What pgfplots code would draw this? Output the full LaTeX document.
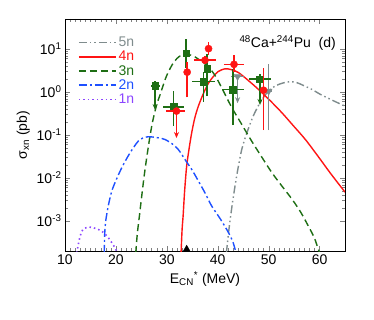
\documentclass[border=0pt]{standalone}
\usepackage{pgfplots}
\pgfplotsset{compat=1.18}
\usepackage{fontspec}
\setmainfont{Liberation Sans}
\usetikzlibrary{arrows.meta}
\definecolor{cfive}{RGB}{127,140,141}
\definecolor{cfour}{RGB}{255,20,20}
\definecolor{cthree}{RGB}{30,110,20}
\definecolor{ctwo}{RGB}{30,80,255}
\definecolor{cone}{RGB}{140,70,255}
\begin{document}
\begin{tikzpicture}
\begin{axis}[
  scale only axis, width=280pt, height=232pt,
  ymode=log, xmin=10, xmax=65, ymin=2e-4, ymax=50,
  xtick={10,20,...,60}, minor x tick num=9,
  ytick={1e-3,1e-2,1e-1,1,10},
  yticklabels={10\textsuperscript{-3},10\textsuperscript{-2},10\textsuperscript{-1},10\textsuperscript{0},10\textsuperscript{1}},
  tick align=inside, tick pos=both,
  major tick length=5pt, minor tick length=3pt,
  /pgf/number format/assume math mode=true,
  every tick label/.append style={font=\fontsize{14}{16}\selectfont},
  label style={font=\fontsize{14}{16}\selectfont},
  xlabel={E\textsubscript{CN}\textsuperscript{*} (MeV)},
  ylabel={σ\textsubscript{xn} (pb)},
  legend style={draw=none, fill=none, at={(0.035,0.94)}, anchor=north west,
    font=\fontsize{14}{16}\selectfont, row sep=-1pt},
  legend cell align=left,
  legend image code/.code={\draw[line width=1.6pt,#1] (0pt,0pt) -- (37pt,0pt);},
  clip mode=individual,
]
% model curves
\addplot[cfive, line width=1.4pt, dash pattern=on 8pt off 3pt on 1.5pt off 3pt on 1.5pt off 3pt, smooth] coordinates {
(41.7,1.8e-4)(42.3,7.9e-4)(43.0,3.2e-3)(43.8,1.26e-2)(44.7,4.5e-2)(45.7,0.11)(47.0,0.28)(48.3,0.56)(49.8,1.0)(51.3,1.38)(52.8,1.62)(54.2,1.74)(55.5,1.66)(56.9,1.41)(58.5,1.15)(60.1,0.89)(62.8,0.62)(65,0.47)};
\addlegendentry{\textcolor{cfive}{5n}}
\addplot[cfour, line width=1.4pt, smooth] coordinates {
(32.8,1.8e-4)(33.0,6.3e-4)(33.2,1.3e-3)(33.5,5.0e-3)(33.9,1.9e-2)(34.4,5.0e-2)(34.9,0.115)(35.5,0.25)(36.2,0.47)(37.2,0.93)(38.2,1.62)(39.2,2.34)(40.1,3.0)(41.4,3.47)(42.7,3.31)(44.1,2.82)(46.0,1.86)(48.0,1.15)(50.3,0.63)(52.6,0.33)(54.9,0.162)(57.2,7.9e-2)(59.7,3.2e-2)(62.2,1.26e-2)(65,4.7e-3)};
\addlegendentry{\textcolor{cfour}{4n}}
\addplot[cthree, line width=1.4pt, dash pattern=on 7pt off 4pt, smooth] coordinates {
(23.9,1.8e-4)(24.2,5.0e-4)(24.6,1.26e-3)(25.0,3.2e-3)(25.5,1.0e-2)(26.0,2.7e-2)(26.7,9.5e-2)(27.3,0.23)(28.1,0.56)(28.6,0.81)(29.9,2.3)(31.3,4.8)(32.6,6.9)(34.0,7.4)(35.2,6.9)(36.8,5.2)(38.2,3.8)(39.5,2.4)(41.0,1.12)(42.7,0.45)(44.7,0.178)(46.7,7.1e-2)(48.7,3.0e-2)(50.6,1.35e-2)(52.6,6.5e-3)(54.6,3.2e-3)(56.3,1.6e-3)(57.8,7.6e-4)(59.0,4.0e-4)(59.8,2.1e-4)(60.1,1.8e-4)};
\addlegendentry{\textcolor{cthree}{3n}}
\addplot[ctwo, line width=1.4pt, dash pattern=on 8pt off 3pt on 2pt off 3pt, smooth] coordinates {
(17.7,1.8e-4)(17.8,5.0e-4)(18.0,1.0e-3)(18.5,2.24e-3)(19.2,5.0e-3)(20.1,9.3e-3)(21.2,1.78e-2)(22.4,3.24e-2)(23.4,5.0e-2)(24.4,7.2e-2)(25.3,8.5e-2)(26.3,9.1e-2)(27.5,8.9e-2)(28.5,8.5e-2)(29.6,7.9e-2)(31.0,6.3e-2)(32.2,4.7e-2)(33.8,2.45e-2)(35.0,1.51e-2)(36.2,8.5e-3)(37.5,4.5e-3)(38.8,2.24e-3)(40.5,1.12e-3)(42.1,5.4e-4)(43.0,3.2e-4)(43.6,1.8e-4)};
\addlegendentry{\textcolor{ctwo}{2n}}
\addplot[cone, line width=1.6pt, dash pattern=on 1.5pt off 3pt, smooth] coordinates {
(12.3,1.8e-4)(12.9,4.1e-4)(13.5,6.3e-4)(14.7,7.2e-4)(15.8,6.8e-4)(17.1,5.9e-4)(18.5,4.1e-4)(19.8,2.4e-4)(20.2,1.9e-4)};
\addlegendentry{\textcolor{cone}{1n}}
% grey data (5n)
\addplot[cfive, line width=1.6pt, unbounded coords=jump, forget plot] coordinates {
(42.6,2.3)(45.2,2.3) (nan,nan) (49.3,1.05)(50.7,1.05) (nan,nan) (50.0,0.13)(50.0,4.4)};
\addplot[cfive, line width=1.6pt, -{Stealth[length=6pt,width=5pt]}, forget plot] coordinates {(43.9,2.3)(43.9,0.55)};
\addplot[cfive, only marks, mark=triangle*, mark size=4pt, mark options={rotate=180}, forget plot] coordinates {(43.9,2.3)(50.0,1.05)};
% green data (3n)
\addplot[cthree, line width=1.6pt, unbounded coords=jump, forget plot] coordinates {
(26.9,1.4)(28.7,1.4) (nan,nan) (27.7,1.4)(27.7,1.8) (nan,nan)
(29.3,0.45)(33.3,0.45) (nan,nan) (31.3,0.16)(31.3,1.05) (nan,nan)
(33.8,3.7)(33.8,17.5) (nan,nan)
(35.0,1.75)(39.4,1.75) (nan,nan) (37.2,0.6)(37.2,2.9) (nan,nan)
(37.9,0.8)(37.9,7.5) (nan,nan)
(40.9,1.15)(45.1,1.15) (nan,nan) (43.0,0.17)(43.0,3.4) (nan,nan)
(46.2,2.0)(50.4,2.0) (nan,nan) (48.3,2.0)(48.3,2.6)};
\addplot[cthree, line width=1.6pt, -{Stealth[length=6pt,width=5pt]}, forget plot] coordinates {(27.7,1.4)(27.7,0.38)};
\addplot[cthree, line width=1.6pt, -{Stealth[length=6pt,width=5pt]}, forget plot] coordinates {(48.3,2.0)(48.3,0.5)};
\addplot[cthree, only marks, mark=square*, mark size=3.3pt, forget plot] coordinates {
(27.7,1.4)(31.3,0.45)(33.8,8.0)(37.2,1.75)(37.9,3.5)(43.0,1.15)(48.3,2.0)};
% red data (4n)
\addplot[cfour, line width=1.6pt, unbounded coords=jump, forget plot] coordinates {
(29.8,0.36)(33.6,0.36) (nan,nan)
(34.0,0.75)(34.0,5.0) (nan,nan)
(35.3,5.5)(39.7,5.5) (nan,nan) (37.5,4.4)(37.5,7.0) (nan,nan)
(38.2,7.4)(38.2,14.5) (nan,nan)
(41.2,4.4)(45.2,4.4) (nan,nan) (43.2,3.0)(43.2,7.2) (nan,nan)
(49.0,0.13)(49.0,3.7)};
\addplot[cfour, line width=1.6pt, -{Stealth[length=6pt,width=5pt]}, forget plot] coordinates {(31.9,0.36)(31.9,0.085)};
\addplot[cfour, only marks, mark=*, mark size=3.6pt, forget plot] coordinates {
(31.9,0.36)(34.0,2.9)(37.5,5.5)(38.2,10.2)(43.2,4.4)(49.0,1.1)};
% marker on the axis
\addplot[black, only marks, mark=triangle*, mark size=4pt, forget plot] coordinates {(33.9,2.2e-4)};
\node[anchor=north east, font=\fontsize{14}{16}\selectfont] at (rel axis cs:0.98,0.945) {\textsuperscript{48}Ca+\textsuperscript{244}Pu\ \ (d)};
\end{axis}
\path[use as bounding box] (-65pt,-69pt) rectangle (309pt,251pt);
\end{tikzpicture}
\end{document}
